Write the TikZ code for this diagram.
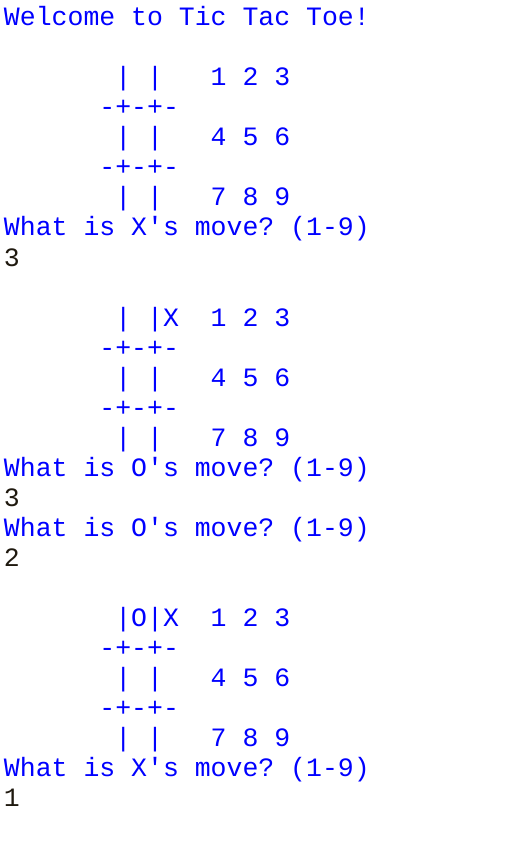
\documentclass[tikz,border=0pt]{standalone}
\usepackage{fontspec}
\setmonofont{Liberation Mono}
\usepackage{tikz}
\definecolor{qqqqff}{rgb}{0,0,1}
\definecolor{ttttqq}{rgb}{0.12,0.1,0.06}
\tikzset{
  shown/.style={anchor=base west,inner sep=0pt,outer sep=0pt,color=qqqqff,font=\fontsize{26.5}{30}\selectfont\ttfamily},
  typed/.style={shown,color=ttttqq}
}
\begin{document}
\begin{tikzpicture}[x=15.9pt,y=30pt]
\useasboundingbox (-4pt,26pt) rectangle (501pt,-816pt);
\node[shown] (welcome) at (0,0) {Welcome to Tic Tac Toe!};
% first board
\node[shown] (b1r1) at (7,-2) {| |};
\node[shown] (k1r1) at (13,-2) {1 2 3};
\node[shown] (b1s1) at (6,-3) {-+-+-};
\node[shown] (b1r2) at (7,-4) {| |};
\node[shown] (k1r2) at (13,-4) {4 5 6};
\node[shown] (b1s2) at (6,-5) {-+-+-};
\node[shown] (b1r3) at (7,-6) {| |};
\node[shown] (k1r3) at (13,-6) {7 8 9};
\node[shown] (askx1) at (0,-7) {What is X's move? (1-9)};
\node[typed] (inx1) at (0,-8) {3};
% second board
\node[shown] (b2r1) at (7,-10) {| |X};
\node[shown] (k2r1) at (13,-10) {1 2 3};
\node[shown] (b2s1) at (6,-11) {-+-+-};
\node[shown] (b2r2) at (7,-12) {| |};
\node[shown] (k2r2) at (13,-12) {4 5 6};
\node[shown] (b2s2) at (6,-13) {-+-+-};
\node[shown] (b2r3) at (7,-14) {| |};
\node[shown] (k2r3) at (13,-14) {7 8 9};
\node[shown] (asko1) at (0,-15) {What is O's move? (1-9)};
\node[typed] (ino1) at (0,-16) {3};
\node[shown] (asko2) at (0,-17) {What is O's move? (1-9)};
\node[typed] (ino2) at (0,-18) {2};
% third board
\node[shown] (b3r1) at (7,-20) {|O|X};
\node[shown] (k3r1) at (13,-20) {1 2 3};
\node[shown] (b3s1) at (6,-21) {-+-+-};
\node[shown] (b3r2) at (7,-22) {| |};
\node[shown] (k3r2) at (13,-22) {4 5 6};
\node[shown] (b3s2) at (6,-23) {-+-+-};
\node[shown] (b3r3) at (7,-24) {| |};
\node[shown] (k3r3) at (13,-24) {7 8 9};
\node[shown] (askx2) at (0,-25) {What is X's move? (1-9)};
\node[typed] (inx2) at (0,-26) {1};
\end{tikzpicture}
\end{document}
